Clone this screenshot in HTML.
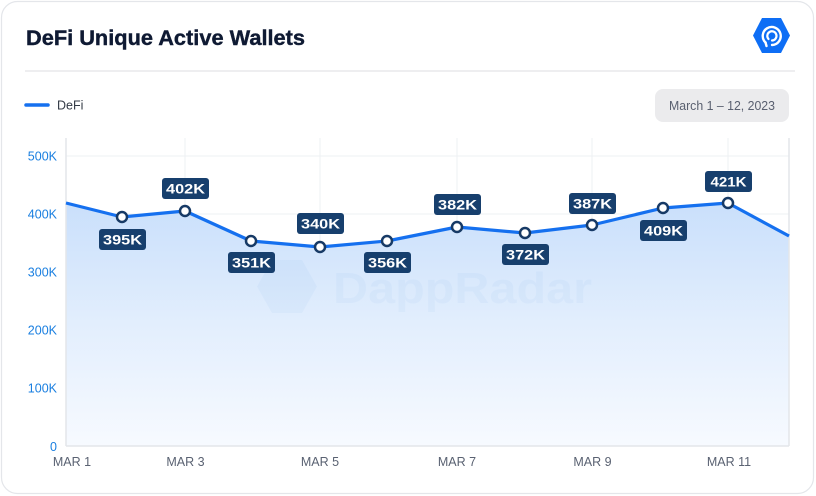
<!DOCTYPE html>
<html>
<head>
<meta charset="utf-8">
<style>
  html,body{margin:0;padding:0;background:#ffffff;}
  body{width:816px;height:496px;overflow:hidden;}
  svg{display:block;}
  text{font-family:"Liberation Sans", sans-serif;}
</style>
</head>
<body>
<svg width="816" height="496" viewBox="0 0 816 496" xmlns="http://www.w3.org/2000/svg">
  <defs>
    <linearGradient id="fillg" x1="0" y1="200" x2="0" y2="446" gradientUnits="userSpaceOnUse">
      <stop offset="0" stop-color="#c9dffb"/>
      <stop offset="0.5" stop-color="#e2eefd"/>
      <stop offset="1" stop-color="#f7faff"/>
    </linearGradient>
  </defs>

  <!-- card -->
  <rect x="1.5" y="1.5" width="812" height="492" rx="16" ry="16" fill="#ffffff" stroke="#e4e6ea" stroke-width="1.2"/>

  <!-- title -->
  <text x="26" y="45" font-size="21" font-weight="700" fill="#0f1a33" stroke="#0f1a33" stroke-width="0.4" textLength="279" lengthAdjust="spacingAndGlyphs">DeFi Unique Active Wallets</text>

  <!-- logo -->
  <polygon points="753,35.5 762,18 781,18 790,35.5 781,53 762,53" fill="#0e6ef5"/>
  <g fill="none" stroke="#ffffff" stroke-linecap="round">
    <path d="M765.5 42.5 A9 9 0 1 1 772 45" stroke-width="2.4"/>
    <path d="M768.5 39 A4.6 4.6 0 1 1 772 40.5" stroke-width="2.2"/>
    <path d="M765.5 42.5 L766.5 46" stroke-width="2.4"/>
  </g>

  <!-- separator -->
  <line x1="25" y1="71" x2="795" y2="71" stroke="#e8e9ec" stroke-width="1.5"/>

  <!-- legend -->
  <line x1="26" y1="105" x2="48" y2="105" stroke="#1570ef" stroke-width="3.5" stroke-linecap="round"/>
  <text x="57" y="109.5" font-size="12.5" fill="#333a45">DeFi</text>

  <!-- date pill -->
  <rect x="655" y="89" width="134" height="33" rx="8" ry="8" fill="#ebebed"/>
  <text x="669" y="110" font-size="13" fill="#5a6070" textLength="106" lengthAdjust="spacingAndGlyphs">March 1 – 12, 2023</text>

  <!-- grid -->
  <g stroke="#eef0f3" stroke-width="1">
    <line x1="66" y1="156" x2="789" y2="156"/>
    <line x1="66" y1="214" x2="789" y2="214"/>
    <line x1="66" y1="272" x2="789" y2="272"/>
    <line x1="66" y1="330" x2="789" y2="330"/>
    <line x1="66" y1="388" x2="789" y2="388"/>
    <line x1="185" y1="138" x2="185" y2="446"/>
    <line x1="320" y1="138" x2="320" y2="446"/>
    <line x1="457" y1="138" x2="457" y2="446"/>
    <line x1="592" y1="138" x2="592" y2="446"/>
    <line x1="728" y1="138" x2="728" y2="446"/>
  </g>

  <!-- area fill -->
  <path d="M66,203 L122,217 L185,211 L251,241 L320,247 L387,241 L457,227 L525,233 L592,225 L663,208 L728,203 L789,236 L789,446 L66,446 Z" fill="url(#fillg)"/>

  <!-- watermark -->
  <g opacity="0.035">
    <polygon points="257,286.5 272,260 302,260 317,286.5 302,313 272,313" fill="#1a6fe0"/>
    <text x="333" y="303" font-size="44" font-weight="700" fill="#1a6fe0" textLength="259" lengthAdjust="spacingAndGlyphs">DappRadar</text>
  </g>

  <!-- axes -->
  <line x1="66" y1="138" x2="66" y2="446" stroke="#e3e6ea" stroke-width="1.5"/>
  <line x1="789" y1="138" x2="789" y2="446" stroke="#e3e6ea" stroke-width="1.5"/>
  <line x1="66" y1="446" x2="789" y2="446" stroke="#e3e6ea" stroke-width="1.5"/>

  <!-- y labels -->
  <g font-size="12.5" fill="#1a7fe0" text-anchor="end">
    <text x="57" y="160.5">500K</text>
    <text x="57" y="218.5">400K</text>
    <text x="57" y="276.5">300K</text>
    <text x="57" y="334.5">200K</text>
    <text x="57" y="392.5">100K</text>
    <text x="57" y="451">0</text>
  </g>

  <!-- x labels -->
  <g font-size="12.5" fill="#5a6272" text-anchor="middle">
    <text x="72" y="466">MAR 1</text>
    <text x="185.5" y="466">MAR 3</text>
    <text x="320" y="466">MAR 5</text>
    <text x="457" y="466">MAR 7</text>
    <text x="592.5" y="466">MAR 9</text>
    <text x="729" y="466">MAR 11</text>
  </g>

  <!-- line -->
  <polyline points="66,203 122,217 185,211 251,241 320,247 387,241 457,227 525,233 592,225 663,208 728,203 789,236" fill="none" stroke="#1570ef" stroke-width="3.2" stroke-linejoin="round"/>

  <!-- markers -->
  <g fill="#ffffff" stroke="#173a66" stroke-width="2.5">
    <circle cx="122" cy="217" r="5"/>
    <circle cx="185" cy="211" r="5"/>
    <circle cx="251" cy="241" r="5"/>
    <circle cx="320" cy="247" r="5"/>
    <circle cx="387" cy="241" r="5"/>
    <circle cx="457" cy="227" r="5"/>
    <circle cx="525" cy="233" r="5"/>
    <circle cx="592" cy="225" r="5"/>
    <circle cx="663" cy="208" r="5"/>
    <circle cx="728" cy="203" r="5"/>
  </g>

  <!-- data labels -->
  <g fill="#173f6d">
    <rect x="99" y="229" width="47" height="21" rx="3"/>
    <rect x="162" y="178" width="47" height="21" rx="3"/>
    <rect x="228" y="252" width="47" height="21" rx="3"/>
    <rect x="297" y="213" width="47" height="21" rx="3"/>
    <rect x="364" y="252" width="47" height="21" rx="3"/>
    <rect x="434" y="194" width="47" height="21" rx="3"/>
    <rect x="502" y="244" width="47" height="21" rx="3"/>
    <rect x="569" y="193" width="47" height="21" rx="3"/>
    <rect x="640" y="220" width="47" height="21" rx="3"/>
    <rect x="705" y="171" width="47" height="21" rx="3"/>
  </g>
  <g fill="#ffffff" font-size="14" font-weight="700" text-anchor="middle">
    <text x="122.5" y="244.5" textLength="39" lengthAdjust="spacingAndGlyphs">395K</text>
    <text x="185.5" y="193.5" textLength="39" lengthAdjust="spacingAndGlyphs">402K</text>
    <text x="251.5" y="267.5" textLength="39" lengthAdjust="spacingAndGlyphs">351K</text>
    <text x="320.5" y="228.5" textLength="39" lengthAdjust="spacingAndGlyphs">340K</text>
    <text x="387.5" y="267.5" textLength="39" lengthAdjust="spacingAndGlyphs">356K</text>
    <text x="457.5" y="209.5" textLength="39" lengthAdjust="spacingAndGlyphs">382K</text>
    <text x="525.5" y="259.5" textLength="39" lengthAdjust="spacingAndGlyphs">372K</text>
    <text x="592.5" y="208.5" textLength="39" lengthAdjust="spacingAndGlyphs">387K</text>
    <text x="663.5" y="235.5" textLength="39" lengthAdjust="spacingAndGlyphs">409K</text>
    <text x="728.5" y="186.5" textLength="36" lengthAdjust="spacingAndGlyphs">421K</text>
  </g>
</svg>
</body>
</html>
